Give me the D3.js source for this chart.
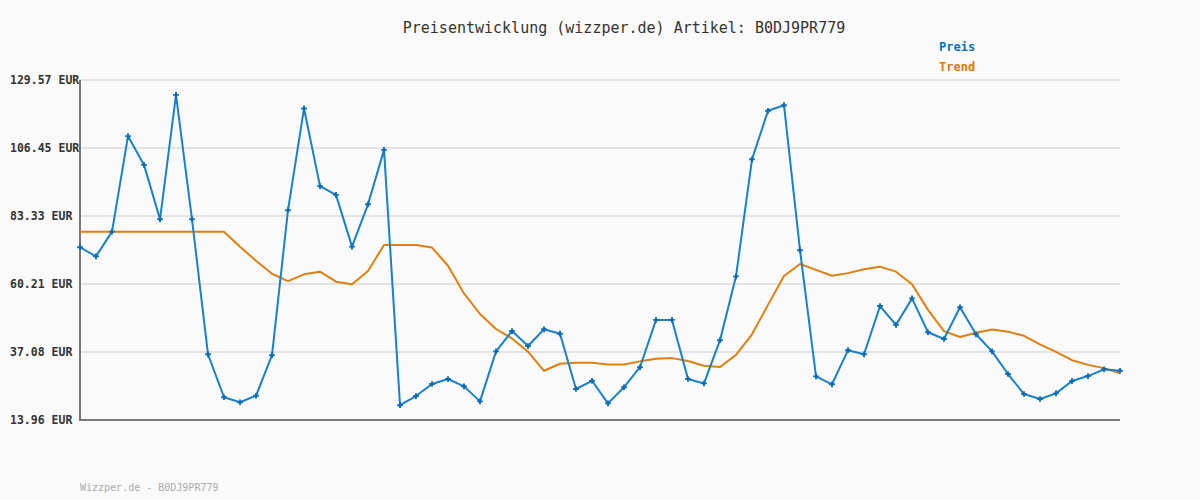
<!DOCTYPE html>
<html>
<head>
<meta charset="utf-8">
<script src="https://cdn.jsdelivr.net/npm/d3@7/dist/d3.min.js"></script>
<style>
  html, body { margin: 0; padding: 0; background: #fafafa; }
  svg { display: block; }
</style>
</head>
<body>
<svg id="chart" width="1200" height="500"></svg>
<script>
const titleText = "Preisentwicklung (wizzper.de) Artikel: B0DJ9PR779";
const footerText = "Wizzper.de - B0DJ9PR779";
const seriesNames = ["Preis", "Trend"];
const tickValues = [13.96, 37.08, 60.21, 83.33, 106.45, 129.57];
const tickLabels = ["13.96 EUR", "37.08 EUR", "60.21 EUR", "83.33 EUR", "106.45 EUR", "129.57 EUR"];
const preis = [72.7, 69.6, 78.0, 110.5, 100.7, 82.2, 124.5, 82.2, 36.3, 21.7,
  20.0, 22.2, 36.0, 85.3, 119.9, 93.5, 90.5, 72.9, 87.3, 105.8,
  19.0, 22.1, 26.2, 27.9, 25.4, 20.3, 37.3, 44.2, 39.1, 44.8,
  43.3, 24.5, 27.3, 19.6, 25.1, 31.9, 48.0, 48.0, 27.9, 26.4,
  41.1, 62.8, 102.6, 119.1, 121.0, 71.7, 28.8, 26.1, 37.7, 36.3,
  52.7, 46.3, 55.3, 43.8, 41.5, 52.3, 43.1, 37.3, 29.6, 22.8,
  21.1, 23.0, 27.2, 28.9, 31.2, 30.7];
const trend = [78.0, 78.0, 78.0, 78.0, 78.0, 78.0, 78.0, 78.0, 78.0, 78.0,
  72.9, 68.1, 63.7, 61.2, 63.5, 64.4, 61.0, 60.1, 64.6, 73.5,
  73.5, 73.5, 72.6, 66.4, 57.0, 50.0, 44.9, 41.7, 37.2, 30.7,
  33.1, 33.4, 33.4, 32.8, 32.8, 33.9, 34.8, 35.0, 34.0, 32.4,
  32.0, 36.1, 43.1, 53.1, 62.9, 67.0, 65.0, 63.0, 63.9, 65.2,
  66.1, 64.4, 60.1, 51.4, 44.2, 42.2, 43.6, 44.7, 44.0, 42.6,
  39.7, 37.1, 34.3, 32.7, 31.6, 29.8];

const colors = { Preis: "#1a80c8", Trend: "#e07f0e" };
const legendColors = { Preis: "#0a70bf", Trend: "#e07800" };

const svg = d3.select("#chart");
const plotLeft = 80, plotRight = 1120, plotTop = 80, plotBottom = 420;

const x = d3.scaleLinear().domain([0, preis.length - 1]).range([plotLeft, plotRight]);
const y = d3.scaleLinear().domain([13.96, 129.57]).range([plotBottom, plotTop]);

// gridlines
svg.append("g").selectAll("line").data(tickValues).join("line")
  .attr("x1", plotLeft).attr("x2", plotRight)
  .attr("y1", d => y(d)).attr("y2", d => y(d))
  .attr("stroke", "#e3e3e3").attr("stroke-width", 2);

// y labels (left aligned)
svg.append("g").selectAll("text").data(tickValues).join("text")
  .attr("x", 10).attr("y", d => y(d) + 4)
  .attr("font-family", "DejaVu Sans Mono, monospace")
  .attr("font-size", 11.5).attr("font-weight", "bold")
  .attr("fill", "#333")
  .text((d, i) => tickLabels[i]);

// axes
svg.append("line").attr("x1", plotLeft).attr("x2", plotLeft).attr("y1", plotTop).attr("y2", plotBottom + 1)
  .attr("stroke", "#777").attr("stroke-width", 2);
svg.append("line").attr("x1", plotLeft - 1).attr("x2", plotRight).attr("y1", plotBottom).attr("y2", plotBottom)
  .attr("stroke", "#777").attr("stroke-width", 2);

const line = d3.line().x((d, i) => x(i)).y(d => y(d));

svg.append("path").datum(trend).attr("d", line)
  .attr("fill", "none").attr("stroke", colors.Trend).attr("stroke-width", 2)
  .attr("stroke-linejoin", "round");

svg.append("path").datum(preis).attr("d", line)
  .attr("fill", "none").attr("stroke", colors.Preis).attr("stroke-width", 2)
  .attr("stroke-linejoin", "round");

// markers
const cross = d3.symbol().type(d3.symbolCross).size(18);
svg.append("g").selectAll("path").data(preis).join("path")
  .attr("d", cross)
  .attr("transform", (d, i) => `translate(${x(i)},${y(d)})`)
  .attr("fill", "#0a6cb8");

// title
svg.append("text").attr("x", 624).attr("y", 33).attr("text-anchor", "middle")
  .attr("font-family", "DejaVu Sans Mono, monospace").attr("font-size", 15)
  .attr("fill", "#333").text(titleText);

// legend
svg.append("g").selectAll("text").data(seriesNames).join("text")
  .attr("x", 939).attr("y", (d, i) => 51 + i * 20)
  .attr("font-family", "DejaVu Sans Mono, monospace").attr("font-size", 12)
  .attr("font-weight", "bold")
  .attr("fill", d => legendColors[d]).text(d => d);

// footer
svg.append("text").attr("x", 80).attr("y", 491)
  .attr("font-family", "DejaVu Sans Mono, monospace").attr("font-size", 10)
  .attr("fill", "#aaa").text(footerText);
</script>
</body>
</html>
